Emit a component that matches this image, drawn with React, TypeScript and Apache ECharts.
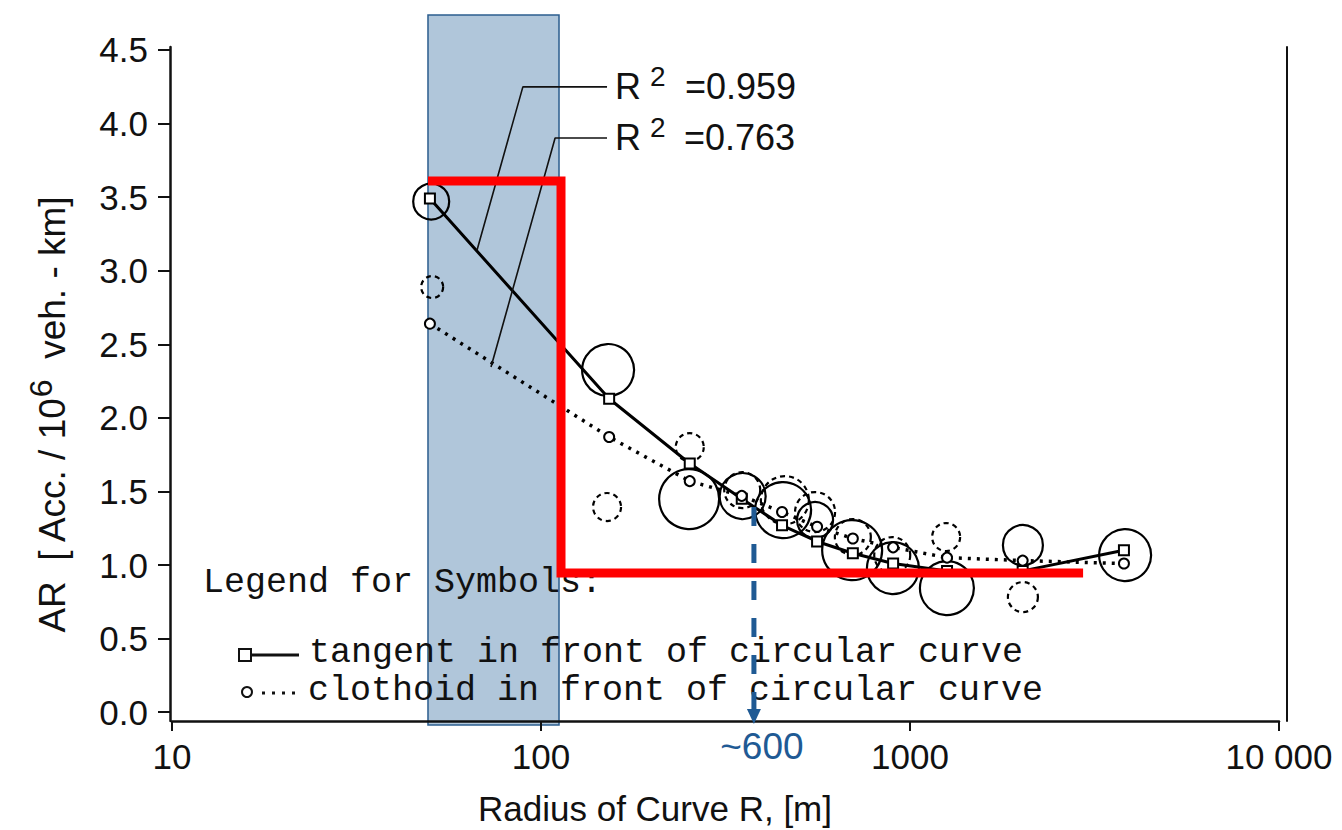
import React, { useEffect, useRef } from 'react';
import * as echarts from 'echarts';

// ---- data ----
const radiusGroups = [50, 153, 253, 350, 450, 560, 700, 900, 1260, 2020, 3800];
const arTangent = [3.49, 2.13, 1.69, 1.45, 1.27, 1.16, 1.08, 1.01, 0.96, 0.96, 1.1];
const arClothoid = [2.64, 1.87, 1.57, 1.47, 1.36, 1.26, 1.18, 1.12, 1.05, 1.03, 1.01];

// observed group values: [R, AR, weight]
const bubblesTangent = [
  [50.4, 3.47, 18], [152, 2.325, 26], [252, 1.448, 30], [352, 1.468, 23], [453, 1.373, 28],
  [553, 1.305, 18], [697, 1.101, 30], [899, 0.979, 26], [1259, 0.843, 27], [2023, 1.135, 20],
  [3828, 1.067, 26],
];
const bubblesClothoid = [
  [50.7, 2.889, 11], [151, 1.394, 14], [253, 1.801, 14], [351, 1.509, 18], [458, 1.441, 24],
  [553, 1.36, 20], [700, 1.19, 18], [895, 1.067, 18], [1253, 1.19, 14], [2023, 0.782, 15],
];

const leaderTangent = [[151, 4.249], [89.3, 4.249], [67.1, 3.14]];
const leaderClothoid = [[151, 3.902], [109.2, 3.902], [73.2, 2.345]];
const r2Labels = ['=0.959', '=0.763'];

const redStep = [[49.4, 3.61], [113.3, 3.61], [113.3, 0.945], [2945, 0.945]];
const highlightBand = [[49.4, -0.088, 111.9, 4.738]];
const arrowMark = [[377.6, 1.394, -0.08]];
const arrowLabel = '~600';

const xTickLabels: Record<number, string> = { 10: '10', 100: '100', 1000: '1000', 10000: '10 000' };
const yTicks = [0, 0.5, 1, 1.5, 2, 2.5, 3, 3.5, 4, 4.5];

const legendTitle = 'Legend for Symbols:';
const legendTangent = 'tangent in front of circular curve';
const legendClothoid = 'clothoid in front of circular curve';
const xName = 'Radius of Curve R, [m]';

const INK = '#111';
const SANS = 'Liberation Sans';
const MONO = 'Liberation Mono';
const ARROW_COLOR = '#1F5A94';

export default function App() {
  const ref = useRef<HTMLDivElement>(null);
  useEffect(() => {
    const chart = echarts.init(ref.current!, null, { renderer: 'svg' });
    const txt = (text: string, x: number, y: number, size: number, family: string, align = 'left', extra: any = {}) => ({
      type: 'text', x, y, z: 10, ...extra,
      style: {
        text, fill: INK, fontSize: size, fontFamily: family, lineHeight: size,
        align, verticalAlign: 'middle', textAlign: align, textVerticalAlign: 'middle',
      },
    });
    chart.setOption({
      animation: false,
      backgroundColor: '#fff',
      grid: { left: 172, right: 63, top: 47, bottom: 109, containLabel: false, outerBoundsMode: 'none' },
      xAxis: {
        type: 'log', logBase: 10, min: 10, max: 10000,
        axisLine: { onZero: false, lineStyle: { color: INK, width: 2.5 } },
        axisTick: { length: 10, lineStyle: { color: INK, width: 2 } },
        minorTick: { show: false },
        splitLine: { show: false },
        axisLabel: {
          margin: 18, fontSize: 35, fontFamily: SANS, color: INK,
          formatter: (v: number) => xTickLabels[Math.round(v)] ?? String(v),
        },
      },
      yAxis: [
        {
          type: 'value', min: -0.06, max: 4.52, offset: 2,
          axisLine: { show: true, onZero: false, lineStyle: { color: INK, width: 2.5 } },
          axisTick: { show: true, length: 12, customValues: yTicks, lineStyle: { color: INK, width: 2 } },
          axisLabel: { customValues: yTicks, margin: 22, fontSize: 35, fontFamily: SANS, color: INK, formatter: (v: number) => v.toFixed(1) },
          splitLine: { show: false },
        },
        {
          type: 'value', position: 'right', offset: 8, min: -0.06, max: 4.52,
          axisLine: { show: true, onZero: false, lineStyle: { color: INK, width: 2 } },
          axisTick: { show: false }, axisLabel: { show: false }, splitLine: { show: false },
        },
      ],
      series: [
        {
          type: 'custom', name: 'band', z: 0, clip: false, silent: true,
          data: highlightBand,
          renderItem: (_p: any, api: any) => {
            const a = api.coord([api.value(0), api.value(3)]);
            const b = api.coord([api.value(2), api.value(1)]);
            return {
              type: 'rect',
              shape: { x: a[0], y: a[1], width: b[0] - a[0], height: b[1] - a[1] },
              style: { fill: '#B0C6DA', stroke: '#2B5D8E', lineWidth: 1.5 },
            };
          },
        },
        {
          type: 'scatter', name: 'obsTangent', z: 3, silent: true,
          data: bubblesTangent,
          symbolSize: (v: number[]) => v[2] * 2,
          itemStyle: { color: 'rgba(0,0,0,0)', borderColor: '#000', borderWidth: 2.2, opacity: 1 },
        },
        {
          type: 'scatter', name: 'obsClothoid', z: 3, silent: true,
          data: bubblesClothoid,
          symbolSize: (v: number[]) => v[2] * 2,
          itemStyle: { color: 'rgba(0,0,0,0)', borderColor: '#000', borderWidth: 2.2, borderType: [5, 4], opacity: 1 },
        },
        {
          type: 'line', name: 'tangent', z: 4, silent: true,
          data: radiusGroups.map((r, i) => [r, arTangent[i]]),
          symbol: 'rect', symbolSize: 10,
          itemStyle: { color: '#fff', borderColor: '#000', borderWidth: 2 },
          lineStyle: { color: '#000', width: 3 },
        },
        {
          type: 'line', name: 'clothoid', z: 4, silent: true,
          data: radiusGroups.map((r, i) => [r, arClothoid[i]]),
          symbol: 'circle', symbolSize: 10,
          itemStyle: { color: '#fff', borderColor: '#000', borderWidth: 2 },
          lineStyle: { color: '#000', width: 3.5, type: [3, 6] },
        },
        {
          type: 'line', name: 'leaderT', z: 4, silent: true, symbol: 'none',
          data: leaderTangent, lineStyle: { color: INK, width: 1.6 },
        },
        {
          type: 'line', name: 'leaderC', z: 4, silent: true, symbol: 'none',
          data: leaderClothoid, lineStyle: { color: INK, width: 1.6 },
        },
        {
          type: 'line', name: 'threshold', z: 15, silent: true, symbol: 'none',
          data: redStep, lineStyle: { color: '#FF0000', width: 9, join: 'miter', cap: 'butt' },
        },
        {
          type: 'custom', name: 'arrow', z: 20, clip: false, silent: true,
          data: arrowMark,
          renderItem: (_p: any, api: any) => {
            const top = api.coord([api.value(0), api.value(1)]);
            const tip = api.coord([api.value(0), api.value(2)]);
            return {
              type: 'group',
              children: [
                { type: 'line', shape: { x1: top[0], y1: top[1], x2: tip[0], y2: tip[1] - 14 }, style: { stroke: ARROW_COLOR, lineWidth: 5, lineDash: [19, 18] } },
                { type: 'polygon', shape: { points: [[tip[0] - 7, tip[1] - 15], [tip[0] + 7, tip[1] - 15], [tip[0], tip[1]]] }, style: { fill: ARROW_COLOR } },
                {
                  type: 'text', x: tip[0] + 8, y: tip[1] + 23,
                  style: { text: arrowLabel, fill: ARROW_COLOR, fontSize: 37, fontFamily: SANS, align: 'center', verticalAlign: 'middle', textAlign: 'center', textVerticalAlign: 'middle' },
                },
              ],
            };
          },
        },
      ],
      graphic: {
        elements: [
          // R^2 annotations
          txt('R', 615, 86, 36, SANS),
          txt('2', 650, 76, 28, SANS),
          txt(r2Labels[0], 685, 86, 36, SANS),
          txt('R', 615, 137, 36, SANS),
          txt('2', 650, 127, 28, SANS),
          txt(r2Labels[1], 684, 137, 36, SANS),
          // legend for symbols
          txt(legendTitle, 203, 583, 35, MONO),
          { type: 'rect', z: 10, shape: { x: 239, y: 649, width: 12, height: 12 }, style: { fill: 'none', stroke: INK, lineWidth: 2 } },
          { type: 'line', z: 10, shape: { x1: 251, y1: 655, x2: 299, y2: 655 }, style: { stroke: INK, lineWidth: 3 } },
          txt(legendTangent, 309, 653, 35, MONO),
          { type: 'circle', z: 10, shape: { cx: 247, cy: 692, r: 5 }, style: { fill: 'none', stroke: INK, lineWidth: 2 } },
          { type: 'line', z: 10, shape: { x1: 262, y1: 693, x2: 298, y2: 693 }, style: { stroke: INK, lineWidth: 3, lineDash: [3, 7] } },
          txt(legendClothoid, 308, 691, 35, MONO),
          // axis names
          txt(xName, 655, 808, 35, SANS, 'center'),
          {
            type: 'text', x: 52, y: 415, rotation: Math.PI / 2, z: 10,
            style: {
              text: '{n|AR  [ Acc. / 10}{s|6}{n|  veh. - km]}',
              align: 'center', verticalAlign: 'middle', textAlign: 'center', textVerticalAlign: 'middle',
              rich: {
                n: { fontSize: 37, fontFamily: SANS, fill: INK, color: INK },
                s: { fontSize: 32, fontFamily: SANS, fill: INK, color: INK, padding: [0, 0, 22, 0] },
              },
            },
          },
        ],
      },
    });
    return () => chart.dispose();
  }, []);
  return <div ref={ref} style={{ position: 'absolute', left: 0, top: 0, width: 1342, height: 830, background: '#fff' }} />;
}
